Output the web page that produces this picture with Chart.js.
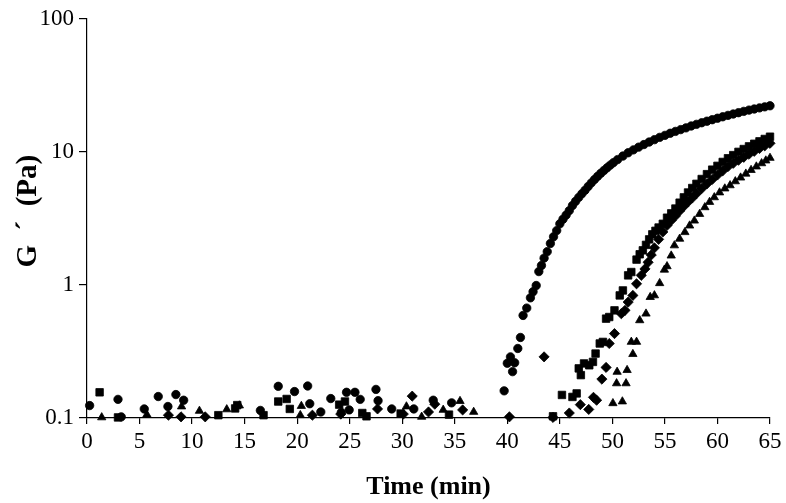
<!DOCTYPE html>
<html>
<head>
<meta charset="utf-8">
<script src="https://cdn.jsdelivr.net/npm/chart.js@4.4.1/dist/chart.umd.min.js"></script>
<style>
    body { margin: 0; background: #fff; }
    #wrap { width: 786px; height: 503px; position: relative; }
</style>
</head>
<body>
<div id="wrap"><canvas id="gChart"></canvas></div>
<script>
// G' readings (Pa) vs time (min), one pair of arrays per marker series
const circleTime = [0.25, 2.95, 3.26, 5.45, 6.78, 7.7, 8.46, 9.2, 16.5, 18.2, 19.75, 21.0, 21.2, 22.25, 23.2, 24.2, 24.7, 24.95, 25.5, 26.0, 27.5, 27.7, 29.0, 31.1, 32.95, 34.7,
    39.7, 40.0, 40.3, 40.5, 40.7, 41.0, 41.25, 41.5, 41.85, 42.2, 42.45, 42.75, 43.0, 43.25, 43.5, 43.8, 44.1, 44.4, 44.7,
    45.0, 45.3, 45.6, 45.9, 46.2, 46.5, 46.8, 47.1, 47.4, 47.7, 48.0, 48.3, 48.6, 48.9, 49.2, 49.5, 49.8, 50.1,
    50.5, 51.0, 51.5, 52.0, 52.5, 53.0, 53.5, 54.0, 54.5, 55.0, 55.5, 56.0, 56.5, 57.0, 57.5, 58.0, 58.5, 59.0, 59.5, 60.0,
    60.5, 61.0, 61.5, 62.0, 62.5, 63.0, 63.5, 64.0, 64.5, 65.0];
const circleG = [0.124, 0.138, 0.102, 0.117, 0.145, 0.122, 0.150, 0.136, 0.114, 0.173, 0.158, 0.174, 0.128, 0.111, 0.140, 0.110, 0.156, 0.115, 0.156, 0.138, 0.164, 0.135, 0.117, 0.117, 0.136, 0.130,
    0.160, 0.258, 0.288, 0.223, 0.260, 0.333, 0.403, 0.59, 0.67, 0.80, 0.89, 0.99, 1.26, 1.40, 1.59, 1.78, 2.05, 2.30, 2.56,
    2.88, 3.12, 3.35, 3.62, 3.95, 4.25, 4.55, 4.85, 5.15, 5.5, 5.85, 6.2, 6.55, 6.9, 7.25, 7.6, 7.95, 8.3,
    8.75, 9.3, 9.85, 10.35, 10.85, 11.35, 11.85, 12.35, 12.85, 13.3, 13.8, 14.25, 14.7, 15.15, 15.65, 16.1, 16.55, 17.0, 17.45, 17.9,
    18.35, 18.8, 19.25, 19.7, 20.15, 20.6, 21.0, 21.4, 21.8, 22.2];

const squareTime = [1.2, 2.95, 12.5, 14.1, 14.3, 16.8, 18.2, 19.0, 19.3, 24.0, 24.55, 26.2, 26.6, 29.85, 34.45,
    44.35, 45.2, 46.2, 46.6, 46.8, 47.0, 47.3, 47.8, 48.15, 48.4, 48.8, 49.1, 49.4, 49.7, 50.2, 50.7, 51.0, 51.5, 51.8,
    52.3, 52.6, 52.9, 53.2, 53.5, 53.8, 54.1, 54.4, 54.8, 55.2, 55.6, 56.0, 56.4, 56.8, 57.2, 57.6, 58.0, 58.5, 59.0, 59.5,
    60.0, 60.5, 61.0, 61.5, 62.0, 62.5, 63.0, 63.5, 64.0, 64.5, 65.0];
const squareG = [0.156, 0.101, 0.105, 0.118, 0.125, 0.105, 0.133, 0.139, 0.117, 0.126, 0.133, 0.109, 0.103, 0.108, 0.106,
    0.103, 0.149, 0.144, 0.153, 0.236, 0.210, 0.257, 0.249, 0.264, 0.305, 0.363, 0.373, 0.558, 0.574, 0.644, 0.834, 0.909, 1.18, 1.25,
    1.55, 1.70, 1.82, 2.0, 2.2, 2.4, 2.55, 2.7, 2.88, 3.2, 3.45, 3.75, 4.15, 4.55, 4.95, 5.35, 5.75, 6.25, 6.8, 7.35,
    7.85, 8.4, 8.95, 9.45, 10.0, 10.5, 11.0, 11.5, 12.0, 12.5, 13.0];

const diamondTime = [7.75, 8.95, 11.25, 21.45, 24.15, 27.65, 30.1, 30.95, 32.5, 33.1, 35.75,
    40.2, 43.5, 44.35, 45.9, 46.95, 47.75, 48.2, 48.5, 49.0, 49.4, 49.7, 50.2, 50.85, 51.2, 51.5, 51.95, 52.3, 52.75, 53.1, 53.4,
    53.7, 54.0, 54.4, 54.8, 55.2, 55.6, 56.0, 56.4, 56.8, 57.2, 57.6, 58.0, 58.5, 59.0, 59.5, 60.0, 60.5, 61.0, 61.5, 62.0,
    62.5, 63.0, 63.5, 64.0, 64.5, 65.0];
const diamondG = [0.105, 0.102, 0.102, 0.105, 0.107, 0.117, 0.107, 0.146, 0.111, 0.127, 0.115,
    0.102, 0.288, 0.101, 0.109, 0.126, 0.116, 0.143, 0.136, 0.196, 0.24, 0.363, 0.431, 0.608, 0.644, 0.743, 0.834, 1.02, 1.18, 1.32, 1.48,
    1.68, 1.9, 2.2, 2.5, 2.8, 3.05, 3.3, 3.6, 3.9, 4.2, 4.5, 4.85, 5.3, 5.75, 6.2, 6.7, 7.2, 7.75, 8.2, 8.65,
    9.1, 9.6, 10.1, 10.6, 11.1, 11.6];

const triangleTime = [1.4, 5.7, 9.0, 10.7, 13.3, 14.5, 20.3, 20.4, 30.4, 31.85, 33.9, 35.5, 36.8,
    50.05, 50.4, 50.45, 50.95, 51.3, 51.4, 51.8, 51.95, 52.3, 52.6, 53.2, 53.6, 54.0, 54.5, 54.95, 55.2, 55.6, 55.9, 56.4, 56.9,
    57.35, 57.8, 58.3, 58.8, 59.25, 59.7, 60.2, 60.7, 61.2, 61.7, 62.2, 62.7, 63.2, 63.7, 64.2, 64.6, 65.0];
const triangleG = [0.101, 0.106, 0.122, 0.113, 0.116, 0.124, 0.105, 0.123, 0.122, 0.102, 0.115, 0.134, 0.111,
    0.129, 0.182, 0.222, 0.133, 0.182, 0.229, 0.373, 0.302, 0.373, 0.542, 0.608, 0.81, 0.834, 1.03, 1.30, 1.38, 1.66, 1.98, 2.22, 2.49,
    2.79, 3.04, 3.41, 3.83, 4.2, 4.55, 4.95, 5.3, 5.6, 6.0, 6.4, 6.85, 7.3, 7.75, 8.2, 8.6, 9.0];

const yTicks = [0.1, 1, 10, 100];

const serif = "'Liberation Serif', 'Times New Roman', serif";

function toPoints(times, values) {
    return times.map((t, i) => ({ x: t, y: values[i] }));
}

function series(times, values, style, radius) {
    return {
        data: toPoints(times, values),
        pointStyle: style,
        pointRadius: radius,
        pointHoverRadius: radius,
        backgroundColor: '#000',
        borderColor: '#000',
        borderWidth: 0.8,
        showLine: false,
        clip: false
    };
}

document.addEventListener('DOMContentLoaded', () => {
    const ctx = document.getElementById('gChart').getContext('2d');
    new Chart(ctx, {
        type: 'scatter',
        data: {
            datasets: [
                series(triangleTime, triangleG, 'triangle', 4.8),
                series(diamondTime, diamondG, 'rectRot', 5.1),
                series(squareTime, squareG, 'rect', 5.3),
                series(circleTime, circleG, 'circle', 4.2)
            ]
        },
        options: {
            responsive: true,
            maintainAspectRatio: false,
            animation: false,
            events: [],
            layout: { padding: { top: 17, right: 16, left: 0, bottom: 0 } },
            plugins: { legend: { display: false }, tooltip: { enabled: false } },
            scales: {
                x: {
                    type: 'linear',
                    min: 0,
                    max: 65,
                    afterFit: s => { s.height = 85; },
                    border: { color: '#000', width: 1.2 },
                    grid: { drawOnChartArea: false, drawTicks: true, tickLength: 6, color: '#000', lineWidth: 1.2 },
                    ticks: { stepSize: 5, color: '#000', padding: 4, maxRotation: 0, font: { family: serif, size: 23 } },
                    title: {
                        display: true,
                        text: 'Time (min)',
                        color: '#000',
                        padding: { top: 0, bottom: 0 },
                        font: { family: serif, size: 26, weight: 'bold' }
                    }
                },
                y: {
                    type: 'logarithmic',
                    min: 0.1,
                    max: 100,
                    afterFit: s => { s.width = 87; },
                    afterBuildTicks: s => { s.ticks = yTicks.map(v => ({ value: v })); },
                    border: { color: '#000', width: 1.2 },
                    grid: { drawOnChartArea: false, drawTicks: true, tickLength: 8, color: '#000', lineWidth: 1.2 },
                    ticks: {
                        color: '#000',
                        padding: 5,
                        font: { family: serif, size: 23 },
                        callback: v => String(v)
                    },
                    title: {
                        display: true,
                        text: '  G  \u00B4  (Pa)',
                        color: '#000',
                        padding: { top: 11, bottom: 0 },
                        font: { family: serif, size: 29, weight: 'bold' }
                    }
                }
            }
        }
    });
});
</script>
</body>
</html>
